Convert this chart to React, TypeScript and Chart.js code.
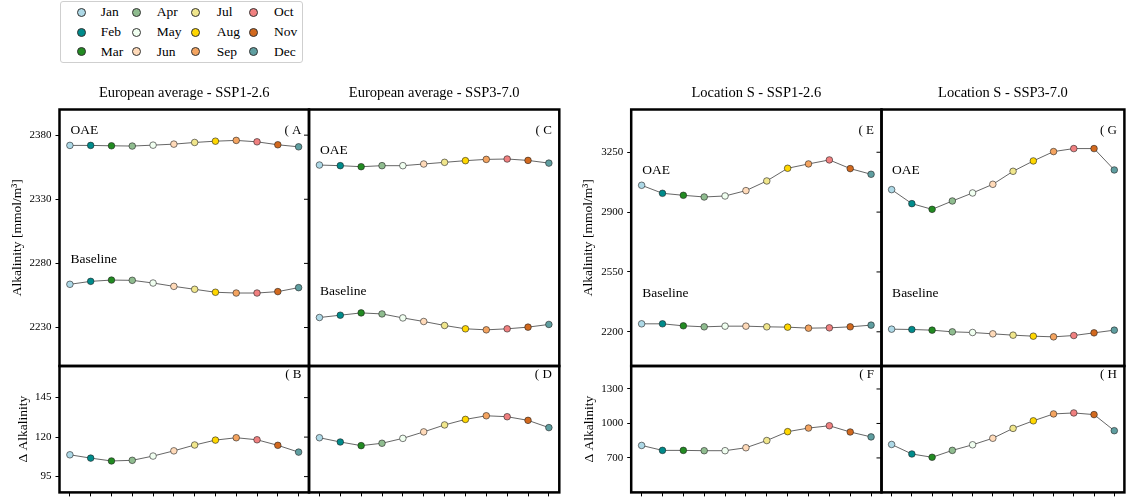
import React, { useEffect, useRef } from "react";
import { Chart, registerables } from "chart.js";

Chart.register(...registerables);

const FONT = "'Liberation Serif', 'Times New Roman', 'DejaVu Serif', serif";
const W = 1129;
const H = 497;

// ---------- data ----------
const months = ["Jan", "Feb", "Mar", "Apr", "May", "Jun", "Jul", "Aug", "Sep", "Oct", "Nov", "Dec"];
const monthColors = [
  "#add8e6", "#008b8b", "#228b22", "#8fbc8f", "#f0fff0", "#ffdab9",
  "#f0e68c", "#ffd700", "#f4a460", "#f08080", "#d2691e", "#5f9ea0",
];

// European average - SSP1-2.6
const euLowOae = [2372.0, 2372.0, 2371.7, 2371.5, 2372.2, 2373.0, 2374.3, 2375.3, 2375.9, 2374.8, 2372.5, 2370.9];
const euLowBase = [2263.7, 2266.0, 2267.0, 2266.8, 2264.7, 2262.1, 2259.8, 2257.5, 2256.9, 2256.9, 2258.0, 2261.1];
const euLowDelta = [108.8, 106.7, 104.9, 105.3, 108.0, 111.3, 115.0, 118.1, 119.6, 118.3, 114.8, 110.5];

// European average - SSP3-7.0
const euHighOae = [2356.7, 2356.2, 2355.4, 2356.2, 2356.2, 2357.5, 2358.8, 2360.1, 2361.1, 2361.4, 2360.3, 2358.2];
const euHighBase = [2237.8, 2239.6, 2241.4, 2240.6, 2237.5, 2234.7, 2231.6, 2229.0, 2228.2, 2229.0, 2230.3, 2232.4];
const euHighDelta = [119.6, 116.9, 114.6, 116.1, 119.2, 123.3, 127.7, 131.2, 133.5, 132.9, 130.6, 126.0];

// Location S - SSP1-2.6
const sLowOae = [3056.8, 3009.9, 2998.2, 2988.4, 2994.3, 3025.5, 3082.1, 3156.3, 3181.7, 3205.1, 3154.4, 3121.2];
const sLowBase = [2246.7, 2246.7, 2235.0, 2229.1, 2233.0, 2233.0, 2229.1, 2227.2, 2221.3, 2223.2, 2229.1, 2239.0];
const sLowDelta = [808.6, 765.7, 765.7, 762.9, 762.9, 788.6, 851.4, 928.6, 960.0, 980.0, 925.7, 882.9];

// Location S - SSP3-7.0
const sHighOae = [3031.4, 2949.4, 2916.2, 2965.0, 3011.9, 3062.6, 3138.7, 3199.2, 3253.9, 3271.5, 3271.5, 3146.5];
const sHighBase = [2215.4, 2213.5, 2209.6, 2199.8, 2195.9, 2188.1, 2180.3, 2174.4, 2170.5, 2178.3, 2193.9, 2209.6];
const sHighDelta = [817.2, 734.3, 705.7, 765.7, 814.3, 871.4, 957.1, 1022.9, 1082.9, 1091.4, 1077.1, 937.1];

// tick labels
const euTopTicks = [2230, 2280, 2330, 2380];
const euBottomTicks = [95, 120, 145];
const sTopTicks = [2200, 2550, 2900, 3250];
const sBottomTicks = [700, 1000, 1300];

const columnTitles = [
  "European average - SSP1-2.6",
  "European average - SSP3-7.0",
  "Location S - SSP1-2.6",
  "Location S - SSP3-7.0",
];

// ---------- layout ----------
type Label = { text: string; value: number };
type Panel = {
  letter: string;
  title?: string;
  series: number[][];
  yMin: number;
  yMax: number;
  ticks: number[];
  box: [number, number, number, number];
  yAxis?: { width: number; title: string };
  rightTicks: boolean;
  xAxis: boolean;
  labels: Label[];
  letterOffset: number;
};

const colX: [number, number][] = [
  [59.5, 309],
  [309, 559.3],
  [631.2, 881.5],
  [881.5, 1131.5],
];
const TOP_T = 109.5;
const MID = 366;
const BOT_B = 493;

const panels: Panel[] = [
  {
    letter: "( A", title: columnTitles[0], series: [euLowOae, euLowBase], yMin: 2200, yMax: 2400, ticks: euTopTicks,
    box: [colX[0][0], TOP_T, colX[0][1], MID], yAxis: { width: 50.1, title: "Alkalinity [mmol/m³]" },
    rightTicks: true, xAxis: false, labels: [{ text: "OAE", value: 2383.3 }, { text: "Baseline", value: 2283.4 }], letterOffset: 21.5,
  },
  {
    letter: "( B", series: [euLowDelta], yMin: 85, yMax: 165, ticks: euBottomTicks,
    box: [colX[0][0], MID, colX[0][1], BOT_B], yAxis: { width: 43.8, title: "Δ Alkalinity" },
    rightTicks: true, xAxis: true, labels: [], letterOffset: 9,
  },
  {
    letter: "( C", title: columnTitles[1], series: [euHighOae, euHighBase], yMin: 2200, yMax: 2400, ticks: euTopTicks,
    box: [colX[1][0], TOP_T, colX[1][1], MID],
    rightTicks: false, xAxis: false, labels: [{ text: "OAE", value: 2367.9 }, { text: "Baseline", value: 2258.2 }], letterOffset: 21.5,
  },
  {
    letter: "( D", series: [euHighDelta], yMin: 85, yMax: 165, ticks: euBottomTicks,
    box: [colX[1][0], MID, colX[1][1], BOT_B],
    rightTicks: false, xAxis: true, labels: [], letterOffset: 9,
  },
  {
    letter: "( E", title: columnTitles[2], series: [sLowOae, sLowBase], yMin: 2000, yMax: 3500, ticks: sTopTicks,
    box: [colX[2][0], TOP_T, colX[2][1], MID], yAxis: { width: 50.6, title: "Alkalinity [mmol/m³]" },
    rightTicks: true, xAxis: false, labels: [{ text: "OAE", value: 3143 }, { text: "Baseline", value: 2427 }], letterOffset: 21.5,
  },
  {
    letter: "( F", series: [sLowDelta], yMin: 400, yMax: 1500, ticks: sBottomTicks,
    box: [colX[2][0], MID, colX[2][1], BOT_B], yAxis: { width: 49.8, title: "Δ Alkalinity" },
    rightTicks: true, xAxis: true, labels: [], letterOffset: 9,
  },
  {
    letter: "( G", title: columnTitles[3], series: [sHighOae, sHighBase], yMin: 2000, yMax: 3500, ticks: sTopTicks,
    box: [colX[3][0], TOP_T, colX[3][1], MID],
    rightTicks: false, xAxis: false, labels: [{ text: "OAE", value: 3143 }, { text: "Baseline", value: 2427 }], letterOffset: 21.5,
  },
  {
    letter: "( H", series: [sHighDelta], yMin: 400, yMax: 1500, ticks: sBottomTicks,
    box: [colX[3][0], MID, colX[3][1], BOT_B],
    rightTicks: false, xAxis: true, labels: [], letterOffset: 9,
  },
];

function PanelChart({ p }: { p: Panel }) {
  const ref = useRef<HTMLCanvasElement | null>(null);
  useEffect(() => {
    if (!ref.current) return;
    const [L, T, R, B] = p.box;
    const yW = p.yAxis ? p.yAxis.width : 0;
    const xH = p.xAxis ? 4 : 0;

    const deco = {
      id: "panelDeco",
      afterDraw(chart: any) {
        const ctx = chart.ctx as CanvasRenderingContext2D;
        const { left, top, right, bottom } = chart.chartArea;
        const ys = chart.scales.y;
        const xs = chart.scales.x;
        ctx.save();
        if (p.rightTicks) {
          ctx.strokeStyle = "#000";
          ctx.lineWidth = 1;
          p.ticks.forEach((v) => {
            const y = ys.getPixelForValue(v);
            ctx.beginPath();
            ctx.moveTo(right - 5, y);
            ctx.lineTo(right, y);
            ctx.stroke();
          });
        }
        ctx.strokeStyle = "#000";
        ctx.lineWidth = 2.5;
        ctx.strokeRect(left, top, right - left, bottom - top);
        ctx.fillStyle = "#000";
        ctx.textBaseline = "middle";
        if (p.title) {
          ctx.font = `14.5px ${FONT}`;
          ctx.textAlign = "center";
          ctx.fillText(p.title, (left + right) / 2, 93);
        }
        ctx.font = `13px ${FONT}`;
        ctx.textAlign = "right";
        ctx.fillText(p.letter, right - 7.5, top + p.letterOffset);
        ctx.font = `13.5px ${FONT}`;
        ctx.textAlign = "left";
        const x0 = xs.getPixelForValue(0);
        p.labels.forEach((lb) => {
          ctx.fillText(lb.text, x0 + 0.5, ys.getPixelForValue(lb.value));
        });
        ctx.restore();
      },
    };

    const chart = new Chart(ref.current, {
      type: "line",
      data: {
        labels: months,
        datasets: p.series.map((s) => ({
          data: s,
          borderColor: "#555",
          borderWidth: 0.9,
          pointBackgroundColor: monthColors,
          pointBorderColor: "#222",
          pointBorderWidth: 0.6,
          pointRadius: 3.3,
          tension: 0,
          fill: false,
        })),
      },
      options: {
        responsive: false,
        animation: false,
        devicePixelRatio: 1,
        events: [],
        layout: {
          padding: { left: L - yW, top: T, right: W - R, bottom: H - B - xH },
        },
        plugins: {
          legend: { display: false },
          tooltip: { enabled: false },
          title: { display: false },
        },
        scales: {
          x: {
            type: "category",
            offset: true,
            display: p.xAxis,
            grid: { offset: false, drawOnChartArea: false, drawTicks: true, tickLength: 4, color: "#000", lineWidth: 1 },
            border: { display: false },
            ticks: { display: false },
            afterFit: (s: any) => {
              s.height = xH;
              s.paddingLeft = 0;
              s.paddingRight = 0;
            },
          },
          y: {
            type: "linear",
            min: p.yMin,
            max: p.yMax,
            display: !!p.yAxis,
            position: "left",
            afterBuildTicks: (s: any) => {
              s.ticks = p.ticks.map((v) => ({ value: v }));
            },
            afterFit: (s: any) => {
              s.width = yW;
              s.paddingTop = 0;
              s.paddingBottom = 0;
            },
            grid: { drawOnChartArea: false, drawTicks: true, tickLength: 4, color: "#000", lineWidth: 1 },
            border: { display: false },
            ticks: {
              color: "#000",
              padding: 4,
              font: { family: FONT, size: 11 },
              callback: (v: any) => String(v),
            },
            title: {
              display: !!p.yAxis,
              text: p.yAxis ? p.yAxis.title : "",
              color: "#000",
              padding: 0,
              font: { family: FONT, size: 13.5 },
            },
          },
        },
      } as any,
      plugins: [deco],
    });
    return () => chart.destroy();
  }, [p]);
  return (
    <canvas
      ref={ref}
      width={W}
      height={H}
      style={{ position: "absolute", left: 0, top: 0, width: W, height: H }}
    />
  );
}

const legendMarkerX = [81.7, 136.7, 195, 253.3];
const legendTextX = [100.7, 156.7, 216.7, 274];
const legendRowY = [12.3, 32.3, 51.7];

function Legend() {
  return (
    <>
      <div
        style={{
          position: "absolute",
          left: 60,
          top: 1,
          width: 243,
          height: 62,
          border: "1px solid #cfcfcf",
          borderRadius: 3,
          boxSizing: "border-box",
          background: "#fff",
        }}
      />
      {months.map((m, i) => {
        const col = Math.floor(i / 3);
        const row = i % 3;
        const cy = legendRowY[row];
        return (
          <React.Fragment key={m}>
            <div
              style={{
                position: "absolute",
                left: legendMarkerX[col] - 4.5,
                top: cy - 4.5,
                width: 9,
                height: 9,
                borderRadius: "50%",
                background: monthColors[i],
                border: "0.7px solid #333",
                boxSizing: "border-box",
              }}
            />
            <div
              style={{
                position: "absolute",
                left: legendTextX[col],
                top: cy - 8,
                height: 16,
                lineHeight: "16px",
                fontFamily: FONT,
                fontSize: 13.5,
                color: "#000",
                whiteSpace: "nowrap",
              }}
            >
              {m}
            </div>
          </React.Fragment>
        );
      })}
    </>
  );
}

export default function App() {
  return (
    <div
      style={{
        position: "absolute",
        left: 0,
        top: 0,
        width: W,
        height: H,
        overflow: "hidden",
        background: "#fff",
      }}
    >
      {panels.map((p) => (
        <PanelChart key={p.letter} p={p} />
      ))}
      <Legend />
    </div>
  );
}
